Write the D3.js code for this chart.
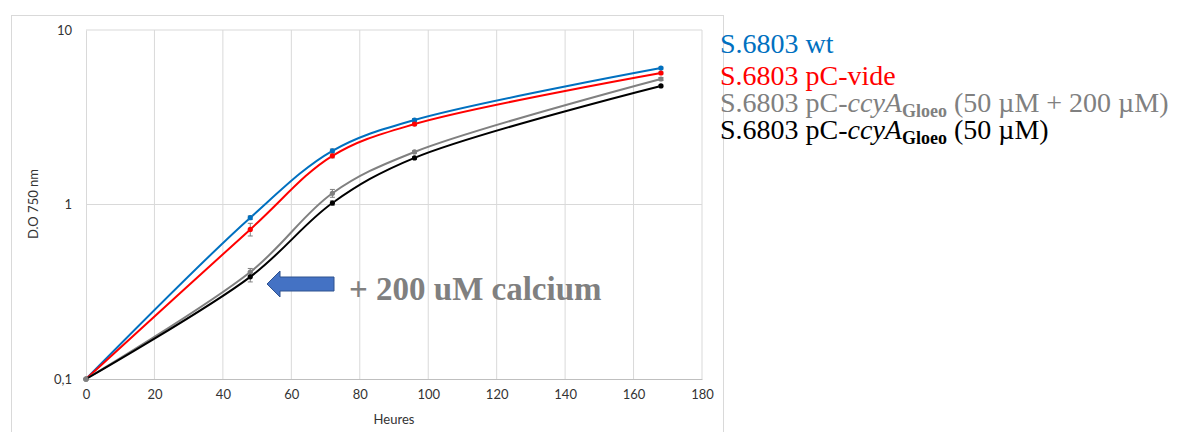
<!DOCTYPE html>
<html><head><meta charset="utf-8">
<script src="https://cdn.jsdelivr.net/npm/d3@7"></script>
<style>body{margin:0;background:#fff}svg{display:block}</style>
</head><body><svg id="c" width="1182" height="432"></svg>
<script>
const hours = [0, 48, 72, 96, 168];
const wt = [0.1, 0.84, 2.03, 3.05, 6.05];
const vide = [0.1, 0.72, 1.90, 2.89, 5.67];
const ccyA200 = [0.1, 0.41, 1.16, 2.00, 5.24];
const ccyA50 = [0.1, 0.385, 1.02, 1.85, 4.78];
const wtErr = [0, 0.02, 0.05, 0.06, 0.08];
const videErr = [0, 0.06, 0.05, 0.06, 0.08];
const ccyA200Err = [0, 0.02, 0.06, 0.03, 0.1];
const ccyA50Err = [0, 0.025, 0.03, 0.03, 0.05];
const xTicks = [0, 20, 40, 60, 80, 100, 120, 140, 160, 180];
const yTicks = [0.1, 1, 10];
const yTickLabels = ["0,1", "1", "10"];

const svg = d3.select("#c");
const x = d3.scaleLinear().domain([0, 180]).range([86, 702]);
const y = d3.scaleLog().domain([0.1, 10]).range([379, 30]);
const sans = "Lato, 'Liberation Sans', sans-serif";

// outer chart frame
svg.append("rect").attr("x", 11.5).attr("y", 15.5).attr("width", 712).attr("height", 430)
  .attr("fill", "none").attr("stroke", "#d9d9d9");

// gridlines
svg.append("g").selectAll("line").data(xTicks.slice(1)).join("line")
  .attr("x1", d => x(d)).attr("x2", d => x(d)).attr("y1", y(10)).attr("y2", y(0.1))
  .attr("stroke", "#d9d9d9");
svg.append("g").selectAll("line").data(yTicks.slice(1)).join("line")
  .attr("x1", x(0)).attr("x2", x(180)).attr("y1", d => y(d)).attr("y2", d => y(d))
  .attr("stroke", "#d9d9d9");

// axes
const xAxis = svg.append("g").attr("transform", `translate(0,${y(0.1)})`)
  .call(d3.axisBottom(x).tickValues(xTicks).tickSize(0).tickPadding(11));
xAxis.select(".domain").attr("stroke", "#bfbfbf");
xAxis.selectAll("text").attr("font-family", sans).attr("font-size", 13).attr("fill", "#333");
const yAxis = svg.append("g").attr("transform", `translate(${x(0)},0)`)
  .call(d3.axisLeft(y).tickValues(yTicks).tickFormat((d, i) => yTickLabels[i]).tickSize(0).tickPadding(14));
yAxis.select(".domain").attr("stroke", "#d9d9d9");
yAxis.selectAll("text").attr("font-family", sans).attr("font-size", 13).attr("fill", "#333");

svg.append("text").attr("x", 394).attr("y", 424).attr("text-anchor", "middle")
  .attr("font-family", sans).attr("font-size", 13).attr("fill", "#333").text("Heures");
svg.append("text").attr("transform", "translate(38,204) rotate(-90)").attr("text-anchor", "middle")
  .attr("font-family", sans).attr("font-size", 13).attr("fill", "#333").text("D.O 750 nm");

const series = [
  {v: wt, e: wtErr, c: "#0070c0"},
  {v: vide, e: videErr, c: "#ff0000"},
  {v: ccyA200, e: ccyA200Err, c: "#808080"},
  {v: ccyA50, e: ccyA50Err, c: "#000000"}
];
const line = d3.line().x(d => x(d[0])).y(d => y(d[1])).curve(d3.curveCatmullRom.alpha(0.5));
series.forEach(s => {
  const pts = hours.map((h, i) => [h, s.v[i], s.e[i]]);
  const g = svg.append("g");
  g.append("path").attr("d", line(pts)).attr("fill", "none").attr("stroke", s.c).attr("stroke-width", 2);
  g.selectAll(".eb").data(pts.slice(1)).join("path")
    .attr("d", d => `M${x(d[0])-2.5},${y(d[1]+d[2])}H${x(d[0])+2.5}M${x(d[0])},${y(d[1]+d[2])}V${y(d[1]-d[2])}M${x(d[0])-2.5},${y(d[1]-d[2])}H${x(d[0])+2.5}`)
    .attr("stroke", "#808080").attr("stroke-width", 1).attr("fill", "none");
  g.selectAll("circle").data(pts).join("circle")
    .attr("cx", d => x(d[0])).attr("cy", d => y(d[1])).attr("r", 2.6).attr("fill", (d, i) => i === 0 ? "#808080" : s.c);
});

// arrow annotation
const ax0 = 267, ay = 284;
svg.append("path")
  .attr("d", `M${ax0},${ay} L${ax0+13},${ay-13} L${ax0+13},${ay-7} L${ax0+67},${ay-7} L${ax0+67},${ay+7} L${ax0+13},${ay+7} L${ax0+13},${ay+13} Z`)
  .attr("fill", "#4472c4").attr("stroke", "#2f528f").attr("stroke-width", 1);
svg.append("text").attr("x", 349).attr("y", 300)
  .attr("font-family", "'Liberation Serif', 'Times New Roman', serif").attr("font-weight", "bold")
  .attr("font-size", 33).attr("fill", "#808080").text("+ 200 uM calcium");

// legend
const leg = svg.append("g").attr("font-family", "'Liberation Serif', 'Times New Roman', serif").attr("font-size", 28);
const legRows = [
  {c: "#0070c0", y: 53, parts: [["S.6803 wt", "n"]]},
  {c: "#ff0000", y: 85, parts: [["S.6803 pC-vide", "n"]]},
  {c: "#808080", y: 112, parts: [["S.6803 pC-", "n"], ["ccyA", "i"], ["Gloeo", "s"], [" (50 µM + 200 µM)", "n"]]},
  {c: "#000000", y: 139, parts: [["S.6803 pC-", "n"], ["ccyA", "i"], ["Gloeo", "s"], [" (50 µM)", "n"]]}
];
legRows.forEach(r => {
  const t = leg.append("text").attr("x", 720).attr("y", r.y).attr("fill", r.c);
  r.parts.forEach(p => {
    const ts = t.append("tspan").text(p[0]);
    if (p[1] === "i") ts.attr("font-style", "italic");
    if (p[1] === "s") ts.attr("font-weight", "bold").attr("font-size", 18).attr("dy", 5);
    if (p[1] === "n" && p[0].startsWith(" ")) ts.attr("dy", -5);
  });
});
</script></body></html>
